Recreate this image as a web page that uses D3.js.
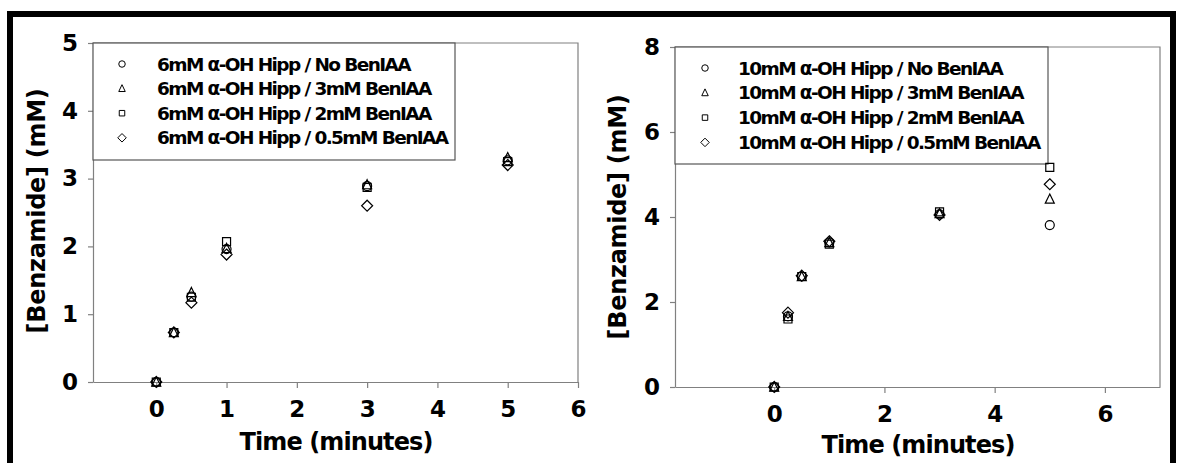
<!DOCTYPE html>
<html>
<head>
<meta charset="utf-8">
<script src="https://cdn.jsdelivr.net/npm/d3@7"></script>
<style>
  body { margin: 0; background: #fff; }
  text { font-family: "DejaVu Sans", sans-serif; font-weight: bold; fill: #000; }
</style>
</head>
<body>
<div id="chart"></div>
<script>
// time points (minutes), same for both panels
const times = [0, 0.25, 0.5, 1, 3, 5]

// left panel: 6mM alpha-OH Hipp
const leftLabels = ["6mM α-OH Hipp / No BenIAA", "6mM α-OH Hipp / 3mM BenIAA", "6mM α-OH Hipp / 2mM BenIAA", "6mM α-OH Hipp / 0.5mM BenIAA"]
const leftNoBen = [0, 0.73, 1.26, 1.96, 2.89, 3.27]
const left3mM = [0, 0.73, 1.32, 1.97, 2.91, 3.31]
const left2mM = [0, 0.73, 1.25, 2.07, 2.87, 3.25]
const left05mM = [0, 0.73, 1.17, 1.88, 2.6, 3.2]
const leftYTicks = [0, 1, 2, 3, 4, 5]
const leftXTicks = [0, 1, 2, 3, 4, 5, 6]

// right panel: 10mM alpha-OH Hipp
const rightLabels = ["10mM α-OH Hipp / No BenIAA", "10mM α-OH Hipp / 3mM BenIAA", "10mM α-OH Hipp / 2mM BenIAA", "10mM α-OH Hipp / 0.5mM BenIAA"]
const rightNoBen = [0, 1.66, 2.6, 3.4, 4.06, 3.81]
const right3mM = [0, 1.66, 2.6, 3.4, 4.08, 4.42]
const right2mM = [0, 1.6, 2.6, 3.36, 4.12, 5.17]
const right05mM = [0, 1.75, 2.62, 3.43, 4.05, 4.77]
const rightYTicks = [0, 2, 4, 6, 8]
const rightXTicks = [0, 2, 4, 6]

const shapes = ["circle", "triangle", "square", "diamond"]

const width = 1181
const height = 463

const svg = d3.select('#chart').append('svg')
    .attr('width', width)
    .attr('height', height)

// marker path, centred on 0,0
const markerPath = (shape, s) => {
    if (shape === "circle") {
        const r = s / 2
        return `M${r},0A${r},${r} 0 1,1 ${-r},0A${r},${r} 0 1,1 ${r},0Z`
    }
    if (shape === "triangle") {
        const h = s * 0.9
        return `M0,${-h / 2 - 1}L${s / 2},${h / 2}L${-s / 2},${h / 2}Z`
    }
    if (shape === "square") {
        const a = s / 2 - 0.5
        return `M${-a},${-a}H${a}V${a}H${-a}Z`
    }
    const d = s / 2 + 1
    return `M0,${-d}L${d},0L0,${d}L${-d},0Z`
}

const styleTicks = (sel) => {
    sel.select(".domain").attr("stroke", "#808080").attr("stroke-width", 1.2)
    sel.selectAll(".tick line").attr("stroke", "#808080").attr("stroke-width", 1.2)
    sel.selectAll(".tick text")
        .attr("font-size", "23px")
        .attr("font-family", "DejaVu Sans")
        .attr("font-weight", "bold")
        .attr("fill", "#000")
}

const drawPanel = (cfg) => {
    const x = d3.scaleLinear().domain(cfg.xDomain).range([cfg.left, cfg.right])
    const y = d3.scaleLinear().domain(cfg.yDomain).range([cfg.bottom, cfg.top])
    const g = svg.append("g")

    // plot area frame (top / right)
    g.append("path")
        .attr("d", `M${cfg.left},${cfg.top}H${cfg.right}V${cfg.bottom}`)
        .attr("fill", "none")
        .attr("stroke", "#808080")
        .attr("stroke-width", 1.2)

    // x axis along y = 0
    const xAxis = g.append("g")
        .attr("transform", `translate(0,${y(0)})`)
        .call(d3.axisBottom(x).tickValues(cfg.xTicks).tickFormat(d3.format("d")).tickSize(6).tickSizeOuter(0).tickPadding(13))
    styleTicks(xAxis)

    const yAxis = g.append("g")
        .attr("transform", `translate(${cfg.left},0)`)
        .call(d3.axisLeft(y).tickValues(cfg.yTicks).tickFormat(d3.format("d")).tickSize(5).tickSizeOuter(0).tickPadding(10))
    styleTicks(yAxis)

    // axis titles
    g.append("text")
        .attr("x", cfg.xTitle[0]).attr("y", cfg.xTitle[1])
        .attr("text-anchor", "middle")
        .attr("font-size", "24px")
        .attr("letter-spacing", "-0.9px")
        .text("Time (minutes)")

    g.append("text")
        .attr("transform", `translate(${cfg.yTitle[0]},${cfg.yTitle[1]}) rotate(-90)`)
        .attr("text-anchor", "middle")
        .attr("font-size", "24px")
        .attr("letter-spacing", "-0.3px")
        .text("[Benzamide] (mM)")

    // legend
    const lg = g.append("g")
    lg.append("rect")
        .attr("x", cfg.left).attr("y", cfg.top)
        .attr("width", cfg.legendRight - cfg.left)
        .attr("height", cfg.legendBottom - cfg.top)
        .attr("fill", "#fff")
        .attr("stroke", "#555")
        .attr("stroke-width", 1.2)

    const rows = lg.selectAll("g.row").data(cfg.labels).enter().append("g")
        .attr("class", "row")
        .attr("transform", (d, i) => `translate(0,${cfg.legendY0 + i * cfg.legendStep})`)
    rows.append("path")
        .attr("d", (d, i) => markerPath(shapes[i], 6.5))
        .attr("transform", `translate(${cfg.legendMarkX},0)`)
        .attr("fill", "#fff")
        .attr("stroke", "#000")
        .attr("stroke-width", 1)
    rows.append("text")
        .attr("x", cfg.legendTextX)
        .attr("y", 6.5)
        .attr("font-size", "18.5px")
        .attr("letter-spacing", "-1.6px")
        .text(d => d)

    // points
    cfg.series.forEach((vals, si) => {
        g.append("g").selectAll("path").data(vals).enter().append("path")
            .attr("d", markerPath(shapes[si], 9))
            .attr("transform", (d, i) => `translate(${x(times[i])},${y(d)})`)
            .attr("fill", "none")
            .attr("stroke", "#000")
            .attr("stroke-width", 1.2)
    })
}

drawPanel({
    xDomain: [-0.9, 6], yDomain: [0, 5],
    left: 93, right: 578, top: 43, bottom: 382,
    xTicks: leftXTicks, yTicks: leftYTicks,
    xTitle: [336, 450], yTitle: [45, 211],
    labels: leftLabels,
    legendRight: 455, legendBottom: 160,
    legendY0: 64, legendStep: 24.6, legendMarkX: 122, legendTextX: 157,
    series: [leftNoBen, left3mM, left2mM, left05mM]
})

drawPanel({
    xDomain: [-1.8, 7], yDomain: [0, 8],
    left: 675, right: 1160, top: 47, bottom: 387,
    xTicks: rightXTicks, yTicks: rightYTicks,
    xTitle: [918, 453], yTitle: [626, 217],
    labels: rightLabels,
    legendRight: 1048, legendBottom: 164,
    legendY0: 68, legendStep: 24.8, legendMarkX: 705, legendTextX: 738,
    series: [rightNoBen, right3mM, right2mM, right05mM]
})

// outer black frame
svg.append("rect")
    .attr("x", 10).attr("y", 14)
    .attr("width", 1163).attr("height", 470)
    .attr("fill", "none")
    .attr("stroke", "#000")
    .attr("stroke-width", 6)
</script>
</body>
</html>
